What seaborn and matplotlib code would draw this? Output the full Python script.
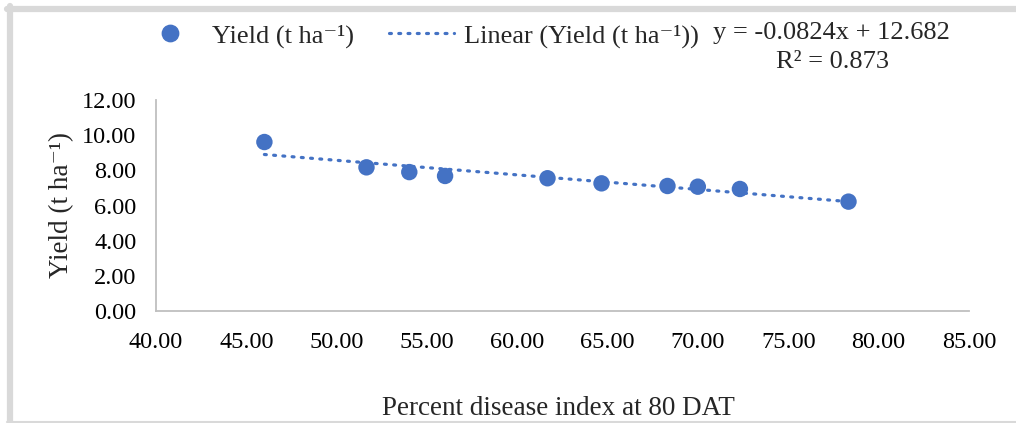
import numpy as np
import pandas as pd
import matplotlib
matplotlib.use("Agg")
import matplotlib.pyplot as plt
from matplotlib.lines import Line2D
import seaborn as sns

# Data
pdi = [46.0, 51.65, 54.02, 56.0, 61.67, 64.66, 68.31, 69.99, 72.32, 78.33]
yield_t = [9.61, 8.17, 7.90, 7.68, 7.55, 7.26, 7.11, 7.07, 6.94, 6.22]
x_ticks = [40, 45, 50, 55, 60, 65, 70, 75, 80, 85]
y_ticks = [0, 2, 4, 6, 8, 10, 12]
series_label = "Yield (t ha\u207b\u00b9)"
trend_label = "Linear (Yield (t ha\u207b\u00b9))"
eq_text = "y = -0.0824x + 12.682"
r2_text = "R\u00b2 = 0.873"

df = pd.DataFrame({"pdi": pdi, "yield": yield_t})

sns.set_theme(style="white")
plt.rcParams['font.family'] = ['Liberation Serif', 'DejaVu Serif']

blue = "#4472C4"
gray = "#d9d9d9"
fs_tick = 17.5
fs_leg = 19
fs_lab = 19.5

fig = plt.figure(figsize=(10.16, 4.23), dpi=100)
fig.patch.set_facecolor("white")
W, H = 1016, 423

# frame
fig.add_artist(Line2D([7 / W, 1.0], [1 - 9 / H, 1 - 9 / H], color=gray, lw=4.5, transform=fig.transFigure))
fig.add_artist(Line2D([10 / W, 10 / W], [1 - 6 / H, 0], color=gray, lw=4.5, transform=fig.transFigure))
fig.add_artist(Line2D([7 / W, 1.0], [1.2 / H, 1.2 / H], color=gray, lw=1.5, transform=fig.transFigure))

ax = fig.add_axes([156 / W, 1 - 311 / H, (969 - 156) / W, (311 - 100) / H])

dots = (0, (0.6, 2.3))
sns.regplot(data=df, x="pdi", y="yield", ax=ax, ci=None, truncate=True,
            scatter_kws=dict(s=140, color=blue, edgecolor="none", alpha=1, zorder=3),
            line_kws=dict(color=blue, lw=2.3, linestyle=dots, dash_capstyle="round", zorder=2))

ax.set_xlim(40, 85)
ax.set_ylim(0, 12)
ax.set_xticks(x_ticks)
ax.set_yticks(y_ticks)
ax.set_xticklabels([f"{v:.2f}" for v in x_ticks], fontsize=fs_tick)
ax.set_yticklabels([f"{v:.2f}" for v in y_ticks], fontsize=fs_tick)
ax.tick_params(axis="both", length=0, colors="black")
ax.tick_params(axis="y", pad=14)
ax.tick_params(axis="x", pad=15)
for s in ["top", "right"]:
    ax.spines[s].set_visible(False)
for s in ["left", "bottom"]:
    ax.spines[s].set_color("#bfbfbf")
    ax.spines[s].set_linewidth(1.3)
ax.set_xlabel("")
ax.set_ylabel("")

fig.text(62 / W, 1 - 205 / H, series_label, rotation=90,
         ha="center", va="center", fontsize=fs_lab)
fig.text(558 / W, 1 - 408 / H, "Percent disease index at 80 DAT", ha="center", va="center", fontsize=fs_lab)

handles = [
    Line2D([], [], marker="o", linestyle="none", color=blue, markersize=11.8),
    Line2D([], [], color=blue, lw=2.3, linestyle=dots, dash_capstyle="round"),
]
fig.legend(handles, [series_label, trend_label], loc="center left",
           bbox_to_anchor=(137 / W, 1 - 36 / H), ncol=2, frameon=False,
           fontsize=fs_leg, handlelength=2.5, handletextpad=0.35, columnspacing=1.3,
           borderaxespad=0, borderpad=0)

fig.text(831 / W, 1 - 33 / H, eq_text, ha="center", va="center", fontsize=fs_leg)
fig.text(832 / W, 1 - 62 / H, r2_text, ha="center", va="center", fontsize=fs_leg)

fig.savefig("out.png", dpi=100, facecolor="white")
